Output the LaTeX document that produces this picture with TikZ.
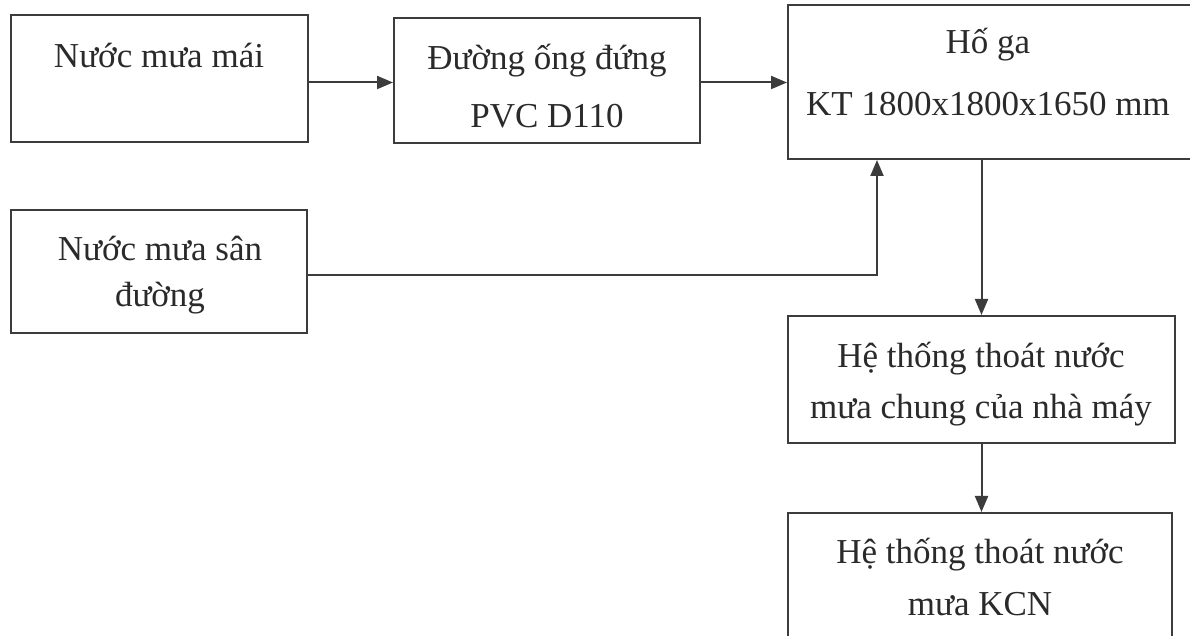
\documentclass[tikz,border=0pt]{standalone}
\usepackage{fontspec}
\setmainfont{Liberation Serif}
\usetikzlibrary{arrows.meta}
\definecolor{linegray}{HTML}{3C3C3C}
\definecolor{inkgray}{HTML}{2A2A2A}
\begin{document}
\begin{tikzpicture}[x=0.5pt,y=-0.5pt,
  box/.style={draw=linegray, line width=1pt, rectangle, inner sep=0pt},
  lbl/.style={align=center, text=inkgray, inner sep=0pt, anchor=base},
  flow/.style={draw=linegray, line width=1pt, -{Triangle[length=8pt,width=6.5pt]}}]
  \useasboundingbox[fill=white] (0,0) rectangle (1190,636);

  % boxes
  \node[box, minimum width=148.5pt, minimum height=63.5pt] (b1) at (159.5,78.5) {};
  \node[box, minimum width=153pt,   minimum height=62.5pt] (b2) at (547,80.5) {};
  \node[box, minimum width=206pt,   minimum height=77pt]   (b3) at (994,82) {};
  \node[box, minimum width=148pt,   minimum height=61.5pt] (b4) at (159,271.5) {};
  \node[box, minimum width=193.5pt, minimum height=63.5pt] (b5) at (981.5,379.5) {};
  \node[box, minimum width=192pt,   minimum height=68.5pt] (b6) at (980,581.5) {};

  % labels (anchored at the baseline of the last line)
  \node[lbl, font=\fontsize{17.5}{29}\selectfont] (t1) at (159,68) {Nước mưa mái};
  \node[lbl, font=\fontsize{17.5}{29}\selectfont] (t2) at (547,128) {Đường ống đứng\\PVC D110};
  \node[lbl, font=\fontsize{17.5}{31}\selectfont] (t3) at (988,116) {Hố ga\\KT 1800x1800x1650 mm};
  \node[lbl, font=\fontsize{17.5}{23.5}\selectfont] (t4) at (160,307) {Nước mưa sân\\đường};
  \node[lbl, font=\fontsize{17.5}{25.5}\selectfont] (t5) at (981,419) {Hệ thống thoát nước\\mưa chung của nhà máy};
  \node[lbl, font=\fontsize{17.5}{26}\selectfont] (t6) at (980,615) {Hệ thống thoát nước\\mưa KCN};

  % connectors
  \coordinate (j) at (877,276);
  \draw[flow] ([yshift=-2pt]b1.east) -- ([yshift=-2pt]b1.east -| b2.west);
  \draw[flow] ([yshift=-1pt]b2.east) -- ([yshift=-1pt]b2.east -| b3.west);
  \draw[flow] ([yshift=-2pt]b4.east) -| (b3.south -| j);
  \draw[flow] (b5.north |- b3.south) -- (b5.north);
  \draw[flow] (b5.south) -- (b5.south |- b6.north);
\end{tikzpicture}
\end{document}
